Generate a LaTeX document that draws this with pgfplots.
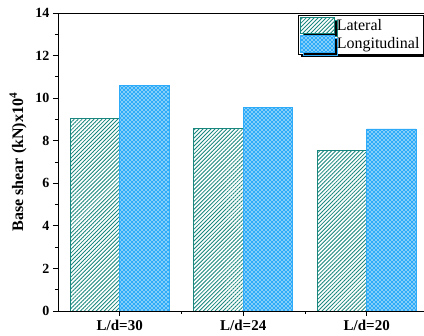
\documentclass[border=0pt]{standalone}
\usepackage{pgfplots}
\pgfplotsset{compat=1.18}
\usepackage{fontspec}
\setmainfont{Liberation Serif}
\usetikzlibrary{patterns.meta,shadows}
\definecolor{teal1}{RGB}{25,135,125}
\definecolor{blue1}{RGB}{45,170,248}
\begin{document}
\begin{tikzpicture}
\path[use as bounding box] (0,0) rectangle (424pt,336pt);
\clip (0,0) rectangle (424pt,336pt);
\begin{axis}[
  at={(58pt,25pt)}, anchor=south west,
  scale only axis, width=370.5pt, height=298pt,
  xmin=-0.5, xmax=2.5, ymin=0, ymax=14,
  xtick={0,1,2}, xticklabels={L/d=30,L/d=24,L/d=20},
  minor xtick={0.5,1.5},
  ytick={0,2,...,14}, minor ytick={1,3,...,13},
  tick align=outside, tick pos=left,
  major tick length=5pt, minor tick length=3pt,
  axis line style={line width=0.9pt}, every tick/.style={black, line width=0.8pt},
  ticklabel style={font=\fontsize{14}{16}\selectfont\bfseries},
  /pgf/number format/assume math mode=true,
  xticklabel style={font=\fontsize{15}{17}\selectfont\bfseries, yshift=-1pt},
  ylabel={\textbf{Base shear (kN)x10\textsuperscript{4}}},
  ylabel style={font=\fontsize{16}{18}\selectfont, at={(-28pt,149pt)}, anchor=south},
  ybar, bar width=0.4,
  legend style={at={(0.648,0.993)}, anchor=north west, draw=black, line width=0.8pt,
    font=\fontsize{16}{18}\selectfont, row sep=1pt, inner sep=1.5pt,
    drop shadow={shadow xshift=3pt, shadow yshift=-3pt, fill=black, opacity=1}, fill=white},
  legend cell align=left,
  legend image code/.code={\draw[#1] (0pt,-8pt) rectangle (34pt,8.5pt);},
]
\addplot[bar shift=-0.2, draw=teal1, line width=0.8pt, fill=white,
  postaction={pattern={Lines[angle=45,distance=2.8pt,line width=0.85pt]}, pattern color=teal1}]
  coordinates {(0,9.05) (1,8.57) (2,7.55)};
\addlegendentry{Lateral}
\addplot[bar shift=0.2, draw=blue1, line width=0.8pt, fill=blue1,
  postaction={pattern={Dots[angle=45,distance=2.8284pt,radius=1pt]}, pattern color=white}]
  coordinates {(0,10.58) (1,9.58) (2,8.55)};
\addlegendentry{Longitudinal}
\end{axis}
\end{tikzpicture}
\end{document}
